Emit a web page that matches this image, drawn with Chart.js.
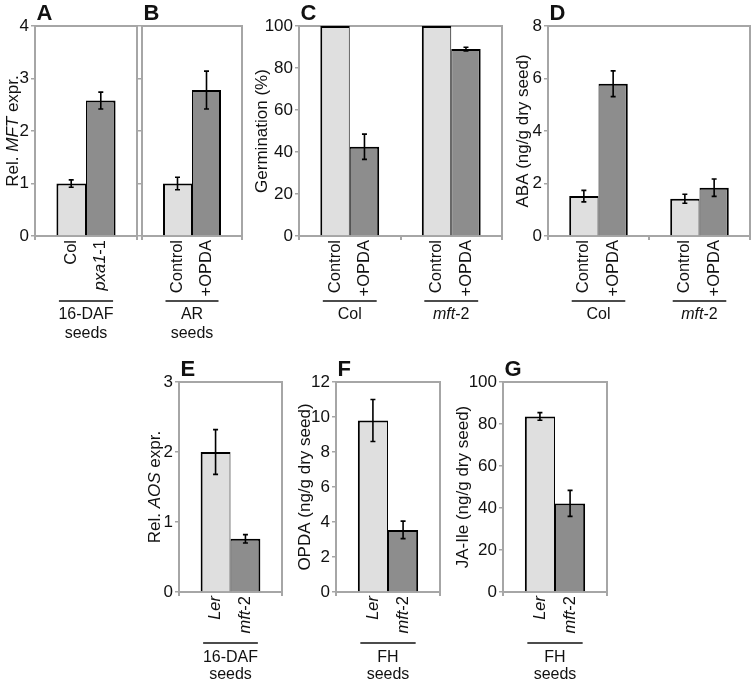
<!DOCTYPE html>
<html><head><meta charset="utf-8">
<script src="https://cdn.jsdelivr.net/npm/chart.js@4.4.1/dist/chart.umd.min.js"></script>
<style>
html,body{margin:0;padding:0;background:#fff;}
#fig{position:relative;width:753px;height:686px;overflow:hidden;background:#fff;}
#fig canvas{position:absolute;}
</style></head><body><div id="fig"></div>
<script>
// ===== DATA =====
// Panel A
const aGroups = [['16-DAF', 'seeds']];
const aBarLabels = ['Col', '*pxa1*-1'];
const aLight = [1.0];   const aLightErr = [0.07];
const aDark = [2.58];   const aDarkErr = [0.16];
const aTicks = {max: 4, step: 1};
// Panel B
const bGroups = [['AR', 'seeds']];
const bBarLabels = ['Control', '+OPDA'];
const bLight = [1.0];   const bLightErr = [0.12];
const bDark = [2.78];   const bDarkErr = [0.36];
const bTicks = {max: 4, step: 1};
// Panel C
const cGroups = [['Col'], ['*mft*-2']];
const cBarLabels = ['Control', '+OPDA'];
const cLight = [100, 100];  const cLightErr = [0, 0];
const cDark = [42.5, 89.0]; const cDarkErr = [6.0, 0.9];
const cTicks = {max: 100, step: 20};
// Panel D
const dGroups = [['Col'], ['*mft*-2']];
const dBarLabels = ['Control', '+OPDA'];
const dLight = [1.52, 1.42]; const dLightErr = [0.22, 0.17];
const dDark = [5.8, 1.84];   const dDarkErr = [0.49, 0.33];
const dTicks = {max: 8, step: 2};
// Panel E
const eGroups = [['16-DAF', 'seeds']];
const eBarLabels = ['*Ler*', '*mft*-2'];
const eLight = [2.0];  const eLightErr = [0.32];
const eDark = [0.76];  const eDarkErr = [0.06];
const eTicks = {max: 3, step: 1};
// Panel F
const fGroups = [['FH', 'seeds']];
const fBarLabels = ['*Ler*', '*mft*-2'];
const fLight = [9.8];  const fLightErr = [1.2];
const fDark = [3.55];  const fDarkErr = [0.5];
const fTicks = {max: 12, step: 2};
// Panel G
const gGroups = [['FH', 'seeds']];
const gBarLabels = ['*Ler*', '*mft*-2'];
const gLight = [83.6]; const gLightErr = [1.8];
const gDark = [42.2];  const gDarkErr = [6.2];
const gTicks = {max: 100, step: 20};

// Axis titles (*...* = italic)
const yTitles = {
  A: 'Rel. *MFT* expr.', B: '', C: 'Germination (%)', D: 'ABA (ng/g dry seed)',
  E: 'Rel. *AOS* expr.', F: 'OPDA (ng/g dry seed)', G: 'JA-Ile (ng/g dry seed)'
};

// ===== LAYOUT / STYLE =====
const FONT = '"Liberation Sans", Arial, Helvetica, sans-serif';
const LIGHT = '#dfdfdf', DARK = '#8d8d8d', FRAME = '#a6a6a6';
const panels = [
  {id:'A', groups:aGroups, barLabels:aBarLabels, light:aLight, lightErr:aLightErr, dark:aDark, darkErr:aDarkErr, ticks:aTicks,
   box:{l:35,r:137,t:26,b:236}, showTicks:true, titleOff:22, row:0},
  {id:'B', groups:bGroups, barLabels:bBarLabels, light:bLight, lightErr:bLightErr, dark:bDark, darkErr:bDarkErr, ticks:bTicks,
   box:{l:142,r:242,t:26,b:236}, showTicks:false, titleOff:22, row:0},
  {id:'C', groups:cGroups, barLabels:cBarLabels, light:cLight, lightErr:cLightErr, dark:cDark, darkErr:cDarkErr, ticks:cTicks,
   box:{l:299,r:502,t:26,b:236}, showTicks:true, titleOff:37, row:0},
  {id:'D', groups:dGroups, barLabels:dBarLabels, light:dLight, lightErr:dLightErr, dark:dDark, darkErr:dDarkErr, ticks:dTicks,
   box:{l:548,r:750,t:26,b:236}, showTicks:true, titleOff:25, row:0},
  {id:'E', groups:eGroups, barLabels:eBarLabels, light:eLight, lightErr:eLightErr, dark:eDark, darkErr:eDarkErr, ticks:eTicks,
   box:{l:179,r:282,t:382,b:592}, showTicks:true, titleOff:24, row:1},
  {id:'F', groups:fGroups, barLabels:fBarLabels, light:fLight, lightErr:fLightErr, dark:fDark, darkErr:fDarkErr, ticks:fTicks,
   box:{l:336,r:440,t:382,b:592}, showTicks:true, titleOff:31, row:1},
  {id:'G', groups:gGroups, barLabels:gBarLabels, light:gLight, lightErr:gLightErr, dark:gDark, darkErr:gDarkErr, ticks:gTicks,
   box:{l:503,r:607,t:382,b:592}, showTicks:true, titleOff:40, row:1}
];
const rowCfg = [
  {bottom:112, underline:65, group:79, gap:19},
  {bottom:94,  underline:51, group:66, gap:17}
];
const LEFT = 60, TOP = 26, RIGHT = 6;

function parseSegs(s) {
  const out = [];
  s.split('*').forEach((p, i) => { if (p) out.push({t: p, it: i % 2 === 1}); });
  return out;
}
function fontFor(seg, size, bold) { return (seg.it ? 'italic ' : '') + (bold ? 'bold ' : '') + size + 'px ' + FONT; }
function segsWidth(ctx, segs, size) {
  let w = 0;
  segs.forEach(sg => { ctx.font = fontFor(sg, size); w += ctx.measureText(sg.t).width; });
  return w;
}
function drawSegs(ctx, str, x, y, size, align) {
  const segs = parseSegs(str);
  const w = segsWidth(ctx, segs, size);
  let cx = align === 'center' ? x - w / 2 : (align === 'right' ? x - w : x);
  ctx.textAlign = 'left';
  segs.forEach(sg => { ctx.font = fontFor(sg, size); ctx.fillText(sg.t, cx, y); cx += ctx.measureText(sg.t).width; });
}

const decoPlugin = {
  id: 'deco',
  beforeDatasetsDraw(chart) {
    const a = chart.chartArea, ctx = chart.ctx;
    ctx.save();
    ctx.strokeStyle = FRAME; ctx.lineWidth = 2;
    ctx.beginPath();
    ctx.moveTo(a.left, a.top); ctx.lineTo(a.right, a.top); ctx.lineTo(a.right, a.bottom);
    ctx.stroke();
    ctx.restore();
  },
  afterDatasetsDraw(chart) {
    const o = chart.options.plugins.deco, ctx = chart.ctx, ys = chart.scales.y;
    ctx.save();
    ctx.strokeStyle = '#000'; ctx.lineWidth = 1.6;
    chart.data.datasets.forEach((ds, di) => {
      const meta = chart.getDatasetMeta(di);
      meta.data.forEach((el, j) => {
        const v = ds.data[j], e = o.errs[di][j];
        if (!e) return;
        const y1 = ys.getPixelForValue(v + e), y2 = ys.getPixelForValue(v - e);
        ctx.beginPath();
        ctx.moveTo(el.x, y1); ctx.lineTo(el.x, y2);
        ctx.moveTo(el.x - 2.5, y1); ctx.lineTo(el.x + 2.5, y1);
        ctx.moveTo(el.x - 2.5, y2); ctx.lineTo(el.x + 2.5, y2);
        ctx.stroke();
      });
    });
    ctx.restore();
  },
  afterDraw(chart) {
    const o = chart.options.plugins.deco, ctx = chart.ctx, a = chart.chartArea;
    const rc = rowCfg[o.row];
    ctx.save();
    ctx.fillStyle = '#111';
    // panel letter
    ctx.font = 'bold 22px ' + FONT; ctx.textAlign = 'left'; ctx.textBaseline = 'alphabetic';
    ctx.fillText(o.letter, a.left + 1.5, a.top - 6);
    // y axis title
    if (o.title) {
      ctx.save();
      ctx.translate(a.left - o.titleOff, (a.top + a.bottom) / 2);
      ctx.rotate(-Math.PI / 2);
      ctx.textBaseline = 'middle';
      drawSegs(ctx, o.title, 0, 0, 17, 'center');
      ctx.restore();
    }
    const metas = chart.data.datasets.map((d, i) => chart.getDatasetMeta(i));
    o.groups.forEach((g, gi) => {
      // rotated bar labels
      metas.forEach((m, di) => {
        const el = m.data[gi];
        ctx.save();
        ctx.translate(el.x, a.bottom + 4);
        ctx.rotate(-Math.PI / 2);
        ctx.textBaseline = 'middle';
        drawSegs(ctx, o.barLabels[di], 0, 0, 16.5, 'right');
        ctx.restore();
      });
      const first = metas[0].data[gi], last = metas[metas.length - 1].data[gi];
      const x0 = first.x - first.width / 2 + 2.5, x1 = last.x + last.width / 2 - 2.5;
      ctx.strokeStyle = '#111'; ctx.lineWidth = 1.3;
      ctx.beginPath(); ctx.moveTo(x0, a.bottom + rc.underline); ctx.lineTo(x1, a.bottom + rc.underline); ctx.stroke();
      ctx.textBaseline = 'middle';
      g.forEach((line, li) => drawSegs(ctx, line, (x0 + x1) / 2, a.bottom + rc.group + li * rc.gap, 16, 'center'));
    });
    ctx.restore();
  }
};

const fig = document.getElementById('fig');
panels.forEach(p => {
  const rc = rowCfg[p.row];
  const cv = document.createElement('canvas');
  const w = p.box.r - p.box.l + LEFT + RIGHT;
  const h = p.box.b - p.box.t + TOP + rc.bottom;
  cv.width = w; cv.height = h;
  cv.style.left = (p.box.l - LEFT) + 'px';
  cv.style.top = (p.box.t - TOP) + 'px';
  cv.style.width = w + 'px'; cv.style.height = h + 'px';
  fig.appendChild(cv);
  new Chart(cv, {
    type: 'bar',
    data: {
      labels: p.groups.map(g => g.join(' ').replace(/\*/g, '')),
      datasets: [
        {data: p.light, backgroundColor: LIGHT, borderColor: '#000',
         borderWidth: {top: 2, left: 2, right: 1, bottom: 0}, borderSkipped: false,
         categoryPercentage: 0.58, barPercentage: 1.0},
        {data: p.dark, backgroundColor: DARK, borderColor: '#000',
         borderWidth: {top: 2, left: 1, right: 2, bottom: 0}, borderSkipped: false,
         categoryPercentage: 0.58, barPercentage: 1.0}
      ]
    },
    options: {
      responsive: false, animation: false, devicePixelRatio: 1,
      layout: {padding: {left: 0, top: TOP, right: RIGHT, bottom: 0}},
      plugins: {
        legend: {display: false}, tooltip: {enabled: false},
        deco: {letter: p.id, title: yTitles[p.id], titleOff: p.titleOff, row: p.row,
               groups: p.groups, barLabels: p.barLabels, errs: [p.lightErr, p.darkErr]}
      },
      scales: {
        x: {
          offset: true,
          grid: {display: true, offset: true, drawOnChartArea: false, drawTicks: true, tickLength: 4, color: FRAME, lineWidth: 2},
          border: {display: true, color: FRAME, width: 2},
          ticks: {display: false},
          afterFit: s => { s.height = rc.bottom; }
        },
        y: {
          min: 0, max: p.ticks.max,
          ticks: {display: p.showTicks, stepSize: p.ticks.step, color: '#111', padding: 2,
                  font: {family: FONT, size: 17}},
          grid: {display: true, drawOnChartArea: false, drawTicks: true, tickLength: 4, color: FRAME, lineWidth: 1.5},
          border: {display: true, color: FRAME, width: 2},
          afterFit: s => { s.width = LEFT; }
        }
      }
    },
    plugins: [decoPlugin]
  });
});
</script>
</body></html>
